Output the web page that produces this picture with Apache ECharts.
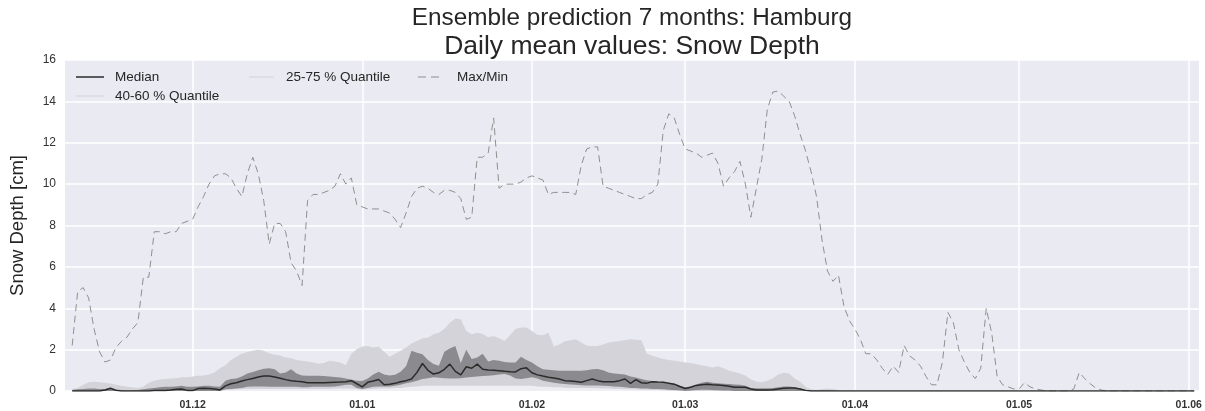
<!DOCTYPE html>
<html>
<head>
<meta charset="utf-8">
<title>Snow Depth ensemble – Hamburg</title>
<script src="https://cdn.jsdelivr.net/npm/echarts@6/dist/echarts.min.js"></script>
<style>
  html, body { margin: 0; padding: 0; background: #ffffff; }
  #chart { width: 1205px; height: 411px; }
</style>
</head>
<body>
<div id="chart"></div>
<script>
// ---- data: daily values from 9 Nov 2016 to 2 Jun 2017 (snow depth in cm) ----
const firstDay = '2016-11-09';
const xTickDates = ['2016-12-01', '2017-01-01', '2017-02-01', '2017-03-01', '2017-04-01', '2017-05-01', '2017-06-01'];
const yMin = 0, yMax = 16, yStep = 2;

const maxDepth = [
  2.2, 4.8, 5.0, 4.5, 3.0, 1.9, 1.4, 1.5, 2.1, 2.4,
  2.6, 3.0, 3.3, 5.5, 5.5, 7.7, 7.7, 7.6, 7.7, 7.7,
  8.1, 8.2, 8.3, 8.9, 9.4, 10.0, 10.4, 10.5, 10.5, 10.3,
  9.8, 9.4, 10.5, 11.3, 10.5, 9.2, 7.1, 8.1, 8.1, 7.7,
  6.2, 5.8, 5.1, 9.2, 9.5, 9.5, 9.6, 9.7, 9.9, 10.5,
  10.0, 10.3, 9.0, 8.9, 8.8, 8.8, 8.8, 8.7, 8.6, 8.3,
  7.9, 8.6, 9.4, 9.8, 9.9, 9.8, 9.6, 9.5, 9.7, 9.7,
  9.6, 9.3, 8.3, 8.4, 11.3, 11.3, 11.5, 13.2, 9.8, 10.0,
  10.0, 10.0, 10.1, 10.3, 10.4, 10.3, 10.2, 9.5, 9.6, 9.6,
  9.6, 9.6, 9.5, 10.9, 11.7, 11.8, 11.8, 9.9, 9.8, 9.7,
  9.6, 9.5, 9.4, 9.3, 9.3, 9.5, 9.6, 10.0, 12.6, 13.4,
  13.2, 12.4, 11.7, 11.6, 11.5, 11.3, 11.4, 11.5, 11.0, 9.9,
  10.3, 10.6, 11.1, 10.0, 8.4, 9.8, 11.2, 13.6, 14.45, 14.5,
  14.25, 14.0, 13.3, 12.4, 11.6, 10.6, 9.4, 7.3, 5.8, 5.3,
  5.6, 4.1, 3.4, 3.0, 2.5, 1.8, 1.8, 1.5, 1.1, 0.8,
  1.2, 0.9, 2.2, 1.7, 1.5, 1.2, 0.7, 0.3, 0.3, 1.4,
  3.8, 3.3, 2.0, 1.4, 0.9, 0.6, 1.1, 4.0, 2.8, 0.7,
  0.3, 0.2, 0.1, 0.1, 0.4, 0.2, 0.1, 0.05, 0, 0,
  0, 0, 0, 0.1, 0.9, 0.6, 0.35, 0.15, 0.05, 0,
  0, 0, 0, 0, 0, 0, 0, 0, 0, 0,
  0, 0, 0, 0, 0, 0
];

const median = [
  0, 0, 0, 0, 0, 0, 0.05, 0.13, 0.03, 0,
  0, 0, 0, 0, 0, 0.02, 0.02, 0.03, 0.05, 0.08,
  0.1, 0.03, 0.02, 0.12, 0.13, 0.12, 0.1, 0.05, 0.25, 0.35,
  0.4, 0.48, 0.55, 0.6, 0.68, 0.72, 0.72, 0.68, 0.62, 0.55,
  0.5, 0.47, 0.45, 0.4, 0.4, 0.4, 0.4, 0.41, 0.42, 0.43,
  0.45, 0.5, 0.35, 0.2, 0.42, 0.48, 0.56, 0.3, 0.33, 0.37,
  0.45, 0.5, 0.58, 0.9, 1.33, 1.0, 0.82, 0.88, 1.05, 1.3,
  0.95, 0.78, 1.17, 1.1, 1.3, 1.05, 1.01, 1.0, 0.98, 0.95,
  0.93, 0.92, 1.08, 1.12, 0.88, 0.78, 0.72, 0.67, 0.63, 0.58,
  0.5, 0.48, 0.46, 0.42, 0.5, 0.58, 0.5, 0.45, 0.45, 0.45,
  0.5, 0.58, 0.37, 0.55, 0.4, 0.38, 0.45, 0.43, 0.42, 0.38,
  0.33, 0.22, 0.12, 0.18, 0.27, 0.3, 0.33, 0.3, 0.29, 0.27,
  0.23, 0.18, 0.18, 0.18, 0.1, 0.05, 0.05, 0.05, 0.06, 0.1,
  0.13, 0.14, 0.14, 0.1, 0.03, 0, 0, 0, 0, 0,
  0, 0, 0, 0, 0, 0, 0, 0, 0, 0,
  0, 0, 0, 0, 0, 0, 0, 0, 0, 0,
  0, 0, 0, 0, 0, 0, 0, 0, 0, 0,
  0, 0, 0, 0, 0, 0, 0, 0, 0, 0,
  0, 0, 0, 0, 0, 0, 0, 0, 0, 0,
  0, 0, 0, 0, 0, 0, 0, 0, 0, 0,
  0, 0, 0, 0, 0, 0
];

const q25 = [
  0, 0, 0, 0, 0, 0, 0, 0, 0, 0,
  0, 0, 0, 0, 0, 0, 0, 0, 0, 0,
  0, 0, 0, 0, 0, 0, 0, 0, 0.05, 0.06,
  0.08, 0.08, 0.1, 0.1, 0.1, 0.1, 0.1, 0.1, 0.1, 0.1,
  0.1, 0.1, 0.1, 0.1, 0.1, 0.1, 0.1, 0.1, 0.12, 0.12,
  0.12, 0.12, 0.1, 0.05, 0.08, 0.1, 0.12, 0.12, 0.12, 0.14,
  0.15, 0.18, 0.2, 0.22, 0.25, 0.25, 0.25, 0.25, 0.25, 0.25,
  0.25, 0.25, 0.25, 0.25, 0.25, 0.25, 0.25, 0.25, 0.25, 0.25,
  0.25, 0.25, 0.25, 0.25, 0.25, 0.22, 0.2, 0.2, 0.18, 0.18,
  0.16, 0.15, 0.15, 0.14, 0.14, 0.13, 0.13, 0.12, 0.12, 0.1,
  0.1, 0.08, 0.08, 0.07, 0.06, 0.06, 0.05, 0.05, 0.04, 0.03,
  0.02, 0.01, 0, 0, 0, 0, 0, 0, 0, 0,
  0, 0, 0, 0, 0, 0, 0, 0, 0, 0,
  0, 0, 0, 0, 0, 0, 0, 0, 0, 0,
  0, 0, 0, 0, 0, 0, 0, 0, 0, 0,
  0, 0, 0, 0, 0, 0, 0, 0, 0, 0,
  0, 0, 0, 0, 0, 0, 0, 0, 0, 0,
  0, 0, 0, 0, 0, 0, 0, 0, 0, 0,
  0, 0, 0, 0, 0, 0, 0, 0, 0, 0,
  0, 0, 0, 0, 0, 0, 0, 0, 0, 0,
  0, 0, 0, 0, 0, 0
];

const q40 = [
  0, 0, 0, 0, 0, 0, 0, 0, 0, 0,
  0, 0, 0, 0, 0, 0, 0, 0, 0, 0,
  0, 0, 0, 0, 0, 0, 0, 0, 0.08, 0.1,
  0.12, 0.15, 0.2, 0.22, 0.22, 0.22, 0.2, 0.2, 0.2, 0.2,
  0.2, 0.2, 0.18, 0.18, 0.2, 0.2, 0.2, 0.2, 0.22, 0.25,
  0.3, 0.3, 0.15, 0.1, 0.15, 0.2, 0.22, 0.22, 0.22, 0.25,
  0.3, 0.38, 0.42, 0.5, 0.58, 0.62, 0.66, 0.64, 0.62, 0.61,
  0.6, 0.62, 0.65, 0.68, 0.7, 0.72, 0.74, 0.76, 0.8, 0.82,
  0.75, 0.6, 0.58, 0.62, 0.66, 0.6, 0.5, 0.45, 0.4, 0.36,
  0.34, 0.32, 0.3, 0.28, 0.27, 0.26, 0.26, 0.25, 0.24, 0.22,
  0.2, 0.18, 0.15, 0.14, 0.12, 0.12, 0.1, 0.1, 0.08, 0.06,
  0.04, 0.02, 0, 0.02, 0.05, 0.06, 0.06, 0.05, 0.04, 0.03,
  0.02, 0, 0, 0, 0, 0, 0, 0, 0, 0,
  0, 0, 0, 0, 0, 0, 0, 0, 0, 0,
  0, 0, 0, 0, 0, 0, 0, 0, 0, 0,
  0, 0, 0, 0, 0, 0, 0, 0, 0, 0,
  0, 0, 0, 0, 0, 0, 0, 0, 0, 0,
  0, 0, 0, 0, 0, 0, 0, 0, 0, 0,
  0, 0, 0, 0, 0, 0, 0, 0, 0, 0,
  0, 0, 0, 0, 0, 0, 0, 0, 0, 0,
  0, 0, 0, 0, 0, 0
];

const q60 = [
  0.05, 0.08, 0.1, 0.12, 0.12, 0.1, 0.1, 0.15, 0.08, 0.05,
  0.03, 0.03, 0.05, 0.08, 0.12, 0.15, 0.18, 0.2, 0.2, 0.22,
  0.25, 0.2, 0.2, 0.22, 0.25, 0.25, 0.22, 0.2, 0.5, 0.58,
  0.6, 0.7, 0.85, 0.92, 1.0, 1.08, 1.1, 1.05, 0.85, 0.9,
  1.05, 0.85, 0.75, 0.74, 0.74, 0.74, 0.72, 0.7, 0.68, 0.65,
  0.6, 0.55, 0.5, 0.48, 0.6, 0.8, 0.93, 0.8, 0.75, 0.78,
  0.93, 1.2, 1.94, 1.85, 1.78, 1.5, 1.3, 1.22, 1.9, 2.05,
  2.17, 1.35, 2.0, 1.55, 1.62, 1.8, 1.42, 1.5, 1.46, 1.4,
  1.38, 1.38, 1.66, 1.5, 1.38, 1.2, 1.05, 1.03, 1.0, 0.98,
  0.98, 0.98, 0.98, 0.98, 1.0, 1.05, 1.06, 1.0, 0.9, 0.85,
  0.82, 0.8, 0.7, 0.65, 0.58, 0.52, 0.48, 0.42, 0.4, 0.35,
  0.36, 0.27, 0.18, 0.22, 0.32, 0.4, 0.45, 0.4, 0.37, 0.35,
  0.34, 0.32, 0.3, 0.25, 0.15, 0.13, 0.13, 0.13, 0.14, 0.18,
  0.22, 0.22, 0.18, 0.12, 0.05, 0.02, 0.02, 0.02, 0.02, 0.01,
  0, 0, 0, 0, 0, 0, 0, 0, 0, 0,
  0, 0, 0, 0, 0, 0, 0, 0, 0, 0,
  0, 0, 0, 0, 0, 0, 0, 0, 0, 0,
  0, 0, 0, 0, 0, 0, 0, 0, 0, 0,
  0, 0, 0, 0, 0, 0, 0, 0, 0, 0,
  0, 0, 0, 0, 0, 0, 0, 0, 0, 0,
  0, 0, 0, 0, 0, 0
];

const q75 = [
  0.1, 0.15, 0.3, 0.42, 0.45, 0.42, 0.4, 0.36, 0.3, 0.25,
  0.2, 0.18, 0.15, 0.2, 0.4, 0.5, 0.55, 0.58, 0.6, 0.62,
  0.66, 0.66, 0.7, 0.74, 0.75, 0.8, 0.9, 1.1, 1.25, 1.5,
  1.65, 1.8, 1.88, 1.94, 2.0, 1.95, 1.82, 1.75, 1.72, 1.62,
  1.58, 1.5, 1.46, 1.42, 1.38, 1.32, 1.35, 1.46, 1.42, 1.38,
  1.25, 1.8, 2.02, 2.15, 2.18, 2.1, 2.15, 1.9, 1.65, 1.8,
  1.94, 2.1, 2.3, 2.42, 2.55, 2.58, 2.74, 2.82, 3.0, 3.3,
  3.5, 3.47, 2.9, 2.74, 2.82, 2.75, 2.6, 2.66, 2.55, 2.42,
  2.7, 3.0, 3.07, 3.07, 2.9, 2.72, 2.7, 2.82, 2.15, 2.25,
  2.4, 2.45, 2.5, 2.35, 2.2, 2.18, 2.18, 2.25, 2.34, 2.38,
  2.42, 2.46, 2.5, 2.48, 2.45, 1.8, 1.7, 1.62, 1.55, 1.5,
  1.46, 1.42, 1.38, 1.35, 1.3, 1.25, 1.2, 1.14, 1.2, 1.1,
  0.98, 0.92, 0.85, 0.75, 0.55, 0.46, 0.42, 0.5, 0.62, 0.8,
  0.88, 0.85, 0.6, 0.45, 0.2, 0.08, 0.05, 0.1, 0.12, 0.1,
  0.05, 0, 0, 0, 0, 0, 0, 0, 0, 0,
  0, 0, 0, 0, 0, 0, 0, 0, 0, 0,
  0, 0, 0, 0, 0, 0, 0, 0, 0, 0,
  0, 0, 0, 0, 0, 0, 0, 0, 0, 0,
  0, 0, 0, 0, 0, 0, 0, 0, 0, 0,
  0, 0, 0, 0, 0, 0, 0, 0, 0, 0,
  0, 0, 0, 0, 0, 0
];

// ---- helpers ----
const DAY = 86400000;
const t0 = Date.parse(firstDay + 'T00:00:00Z');
const dates = maxDepth.map((_, i) => t0 + i * DAY);
const xTickValues = xTickDates.map(d => Date.parse(d + 'T00:00:00Z'));
const pairs = arr => arr.map((v, i) => [dates[i], v]);
const pad2 = n => (n < 10 ? '0' : '') + n;

const FONT = '"Liberation Sans", Arial, Helvetica, sans-serif';
const TEXT = '#262626';
const LIGHT = '#d3d3d9';
const DARK = '#8b8b8f';
const BG_STRIP = '#eeeef3';
const MAX_COLOR = '#8f8f8f';
const MEDIAN_COLOR = '#2b2b2b';

// Opaque areas filled down to zero, drawn from the highest quantile to the lowest,
// so every band shows between its own upper and lower quantile.
function areaSeries(name, values, color) {
  return {
    name, type: 'line', symbol: 'none', silent: true,
    lineStyle: { width: 0, opacity: 0 },
    areaStyle: { color, opacity: 1 },
    data: pairs(values)
  };
}

// legend samples: thin bars, the dashed one made of two short bars
const lineIcon = 'rect';
const dashIcon = 'path://M0,0H8V1H0Z M13,0H21V1H13Z';
const legendBase = {
  top: 70, orient: 'vertical', padding: 0, itemHeight: 1.5, itemGap: 5,
  selectedMode: false,
  textStyle: { fontFamily: FONT, fontSize: 13.5, color: TEXT, lineHeight: 14 }
};

const chart = echarts.init(document.getElementById('chart'), null, { renderer: 'canvas' });

chart.setOption({
  animation: false,
  backgroundColor: '#ffffff',
  textStyle: { fontFamily: FONT },
  title: [
    {
      text: 'Ensemble prediction 7 months: Hamburg',
      left: 632, top: 6, padding: 0, textAlign: 'center',
      textStyle: { fontFamily: FONT, fontSize: 24.3, fontWeight: 'normal', color: TEXT, lineHeight: 24 }
    },
    {
      text: 'Daily mean values: Snow Depth',
      left: 632, top: 33.5, padding: 0, textAlign: 'center',
      textStyle: { fontFamily: FONT, fontSize: 26.5, fontWeight: 'normal', color: TEXT, lineHeight: 26 }
    }
  ],
  grid: {
    left: 64, right: 6, top: 60, bottom: 19,
    show: true, backgroundColor: '#eaeaf2', borderWidth: 0
  },
  legend: [
    Object.assign({}, legendBase, {
      left: 76, itemWidth: 28,
      textStyle: Object.assign({}, legendBase.textStyle, { padding: [0, 0, 0, 6] }),
      data: [
        { name: 'Median', icon: lineIcon, itemStyle: { color: MEDIAN_COLOR } },
        { name: '40-60 % Quantile', icon: lineIcon, itemStyle: { color: '#dadae0' } }
      ]
    }),
    Object.assign({}, legendBase, {
      left: 249, itemWidth: 25,
      textStyle: Object.assign({}, legendBase.textStyle, { padding: [0, 0, 0, 7] }),
      data: [{ name: '25-75 % Quantile', icon: lineIcon, itemStyle: { color: '#dadae0' } }]
    }),
    Object.assign({}, legendBase, {
      left: 418, itemWidth: 21, itemHeight: 1.2,
      textStyle: Object.assign({}, legendBase.textStyle, { padding: [0, 0, 0, 13] }),
      data: [{ name: 'Max/Min', icon: dashIcon, itemStyle: { color: MAX_COLOR } }]
    })
  ],
  xAxis: {
    type: 'value',
    min: Date.parse('2016-11-07T16:30:00Z'),
    max: Date.parse('2017-06-02T21:00:00Z'),
    axisLine: { show: false },
    axisTick: { show: false, customValues: xTickValues },
    axisLabel: {
      customValues: xTickValues,
      formatter: v => { const d = new Date(v); return pad2(d.getUTCDate()) + '.' + pad2(d.getUTCMonth() + 1); },
      fontFamily: FONT, fontSize: 10.5, fontWeight: 'bold', color: '#333333', margin: 9
    },
    splitLine: { show: true, lineStyle: { color: '#ffffff', width: 1.5 } }
  },
  yAxis: {
    type: 'value', min: yMin, max: yMax, interval: yStep,
    name: 'Snow Depth [cm]', nameLocation: 'middle', nameGap: 38,
    nameTextStyle: { fontFamily: FONT, fontSize: 18.5, color: TEXT },
    axisLine: { show: false },
    axisTick: { show: false },
    axisLabel: { fontFamily: FONT, fontSize: 12, color: '#333333', margin: 9 },
    splitLine: { show: true, lineStyle: { color: '#ffffff', width: 1.5 } }
  },
  series: [
    areaSeries('25-75 % Quantile', q75, LIGHT),
    areaSeries('40-60 % Quantile', q60, DARK),
    areaSeries('25-75 % Quantile', q40, LIGHT),
    areaSeries('below 25 %', q25, BG_STRIP),
    {
      name: 'Max/Min', type: 'line', symbol: 'none', silent: true,
      lineStyle: { color: MAX_COLOR, width: 1, type: [7, 4.5] },
      data: pairs(maxDepth)
    },
    {
      name: 'Median', type: 'line', symbol: 'none', silent: true,
      lineStyle: { color: MEDIAN_COLOR, width: 1.5 },
      data: pairs(median)
    }
  ]
});
</script>
</body>
</html>
